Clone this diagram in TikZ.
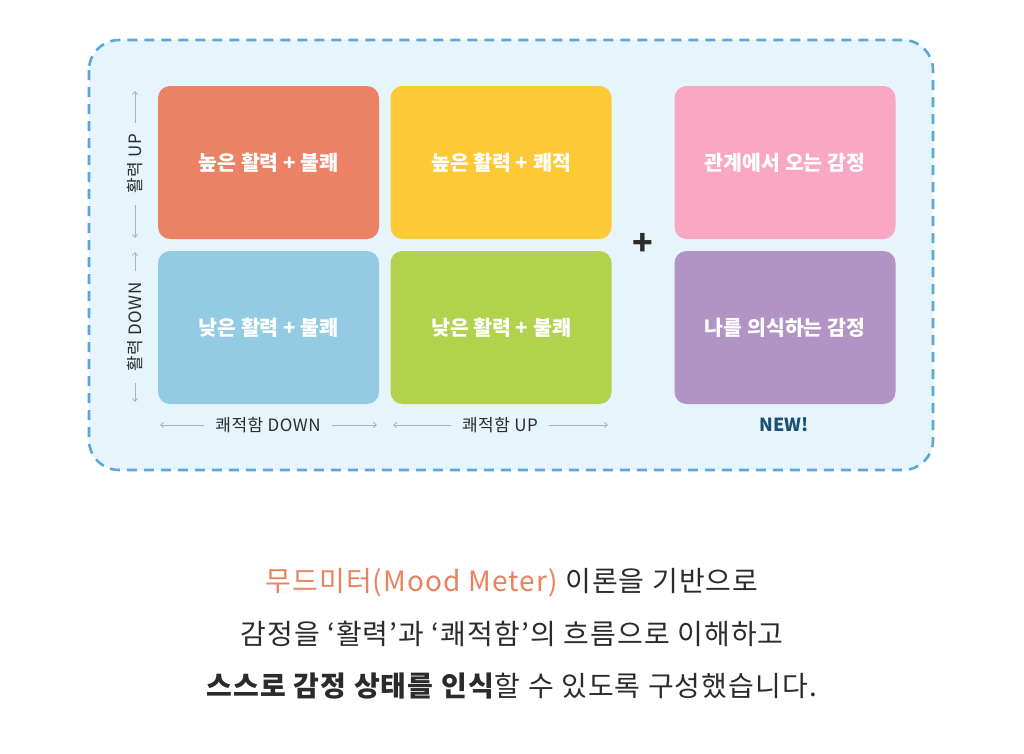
\documentclass[tikz,border=0pt]{standalone}
\usepackage{fontspec}
\setmainfont{Noto Sans CJK KR}
\newfontfamily\bodyfont[LetterSpace=4]{Noto Sans CJK KR}
\newfontfamily\axfont[LetterSpace=3]{Noto Sans CJK KR}
\usetikzlibrary{arrows.meta}
\definecolor{cbg}{HTML}{E6F5FC}
\definecolor{cdash}{HTML}{5AA8D6}
\definecolor{corange}{HTML}{EC8265}
\definecolor{cyellow}{HTML}{FDC935}
\definecolor{cblue}{HTML}{93CBE3}
\definecolor{cgreen}{HTML}{B2D14C}
\definecolor{cpink}{HTML}{F9A7C3}
\definecolor{cpurple}{HTML}{B193C4}
\definecolor{cnavy}{HTML}{1D4F73}
\definecolor{ctext}{HTML}{2B2B2B}
\definecolor{carrow}{HTML}{B0B0B0}
\definecolor{caccent}{HTML}{E8825F}
\tikzset{
  cell/.style={minimum width=221pt, minimum height=153pt, rounded corners=12pt,
    text=white, font=\fontsize{20.5}{22}\selectfont\bfseries, inner sep=0pt},
  axlabel/.style={text=ctext, font=\axfont\fontsize{17}{19}\selectfont, inner xsep=11pt, inner ysep=2pt},
  axarrow/.style={draw=carrow, line width=0.8pt, -{Straight Barb[length=3pt,width=5pt]}},
  body/.style={text=ctext, font=\bodyfont\fontsize{28}{30}\selectfont, inner sep=0pt}
}
\begin{document}
\begin{tikzpicture}[x=1pt,y=-1pt]
\useasboundingbox (0,0) rectangle (1024,753);
\fill[white] (0,0) rectangle (1024,753);
\draw[fill=cbg, draw=cdash, line width=2.6pt, dash pattern=on 10pt off 7pt, rounded corners=30pt]
  (89,40) rectangle (933,470);

\node[cell, fill=corange] (hu) at (268.5,162.5) {높은 활력 + 불쾌};
\node[cell, fill=cyellow] (hp) at (501,162.5) {높은 활력 + 쾌적};
\node[cell, fill=cblue] (lu) at (268.5,327.5) {낮은 활력 + 불쾌};
\node[cell, fill=cgreen] (lp) at (501,327.5) {낮은 활력 + 불쾌};
\node[cell, fill=cpink] (rel) at (785,162.5) {관계에서 오는 감정};
\node[cell, fill=cpurple] (self) at (785,327.5) {나를 의식하는 감정};

\node[text=ctext, font=\fontsize{34}{34}\selectfont\bfseries, inner sep=0pt] (plus) at (643,244) {+};

\node[axlabel, rotate=90] (vup) at (135,164) {활력 UP};
\coordinate (vupT) at (135,91);
\coordinate (vupB) at (135,238);
\draw[axarrow] (vup.east) -- (vupT);
\draw[axarrow] (vup.west) -- (vupB);

\node[axlabel, rotate=90] (vdn) at (135,327) {활력 DOWN};
\coordinate (vdnT) at (135,252);
\coordinate (vdnB) at (135,402);
\draw[axarrow] (vdn.east) -- (vdnT);
\draw[axarrow] (vdn.west) -- (vdnB);

\node[axlabel] (hdn) at (268,425) {쾌적함 DOWN};
\coordinate (hdnL) at (160,425);
\coordinate (hdnR) at (377,425);
\draw[axarrow] (hdn.west) -- (hdnL);
\draw[axarrow] (hdn.east) -- (hdnR);

\node[axlabel] (hup) at (500,425) {쾌적함 UP};
\coordinate (hupL) at (393,425);
\coordinate (hupR) at (608,425);
\draw[axarrow] (hup.west) -- (hupL);
\draw[axarrow] (hup.east) -- (hupR);

\node[text=cnavy, font=\fontsize{18}{20}\selectfont\bfseries] (new) at (784,425) {NEW!};

\node[body] (l1) at (512,583) {\textcolor{caccent}{무드미터(Mood Meter)} 이론을 기반으로};
\node[body] (l2) at (512,634) {감정을 ‘활력’과 ‘쾌적함’의 흐름으로 이해하고};
\node[body] (l3) at (512,686) {\textbf{스스로 감정 상태를 인식}할 수 있도록 구성했습니다.};
\end{tikzpicture}
\end{document}
